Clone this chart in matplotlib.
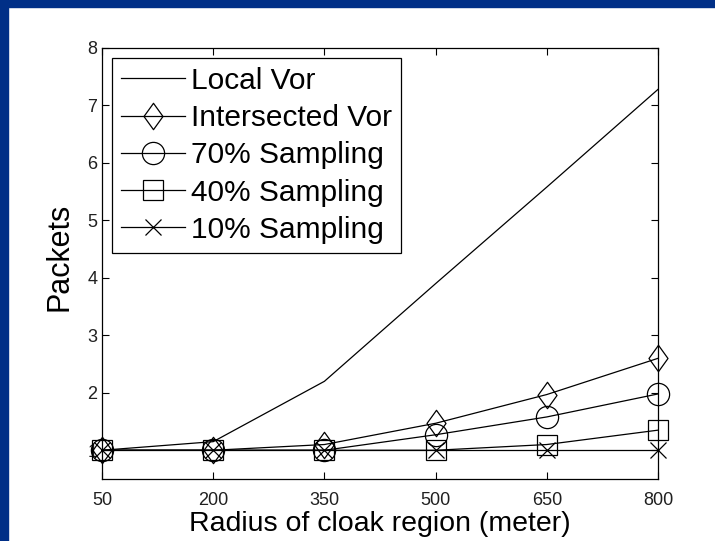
import matplotlib
matplotlib.use('Agg')
import matplotlib.pyplot as plt
from matplotlib.path import Path
from matplotlib.patches import Rectangle

# values
radius = [50, 200, 350, 500, 650, 800]
local_vor = [1.0, 1.15, 2.2, 3.9, 5.58, 7.28]
intersected_vor = [1.0, 1.0, 1.1, 1.47, 1.97, 2.6]
sampling_70 = [1.0, 1.0, 1.0, 1.27, 1.58, 1.98]
sampling_40 = [1.0, 1.0, 1.0, 1.0, 1.1, 1.35]
sampling_10 = [1.0, 1.0, 1.0, 1.0, 1.0, 1.0]
y_ticks = [1, 2, 3, 4, 5, 6, 7, 8]

plt.rcParams['font.family'] = ['Liberation Sans', 'DejaVu Sans']

# taller-than-wide diamond like the MATLAB one
diamond = Path([(0, 1), (0.72, 0), (0, -1), (-0.72, 0), (0, 1)],
               [Path.MOVETO, Path.LINETO, Path.LINETO, Path.LINETO, Path.CLOSEPOLY])

fig = plt.figure(figsize=(7.15, 5.41), dpi=100)
fig.patch.set_facecolor('white')
# blue slide frame on top and left
fig.patches.append(Rectangle((0, 1 - 7 / 541), 1, 7 / 541, transform=fig.transFigure,
                             color='#002f87', zorder=0))
fig.patches.append(Rectangle((0, 0), 8 / 715, 1, transform=fig.transFigure,
                             color='#002f87', zorder=0))

ax = fig.add_axes([0.1427, 0.1146, 0.7776, 0.7967])

style = dict(color='black', linewidth=0.9, markerfacecolor='none',
             markeredgecolor='black', markeredgewidth=0.9, clip_on=False)
ax.plot(radius, local_vor, label='Local Vor', **style)
ax.plot(radius, intersected_vor, marker=diamond, markersize=19, label='Intersected Vor', **style)
ax.plot(radius, sampling_70, marker='o', markersize=16, label='70% Sampling', **style)
ax.plot(radius, sampling_40, marker='s', markersize=14, label='40% Sampling', **style)
ax.plot(radius, sampling_10, marker='x', markersize=11, label='10% Sampling', **style)

ax.set_xlim(50, 800)
ax.set_ylim(0.5, 8)
ax.set_xticks(radius)
ax.set_yticks(y_ticks)
ax.tick_params(direction='in', length=5, labelsize=13, top=True, right=True,
               labelcolor='#202020')
ax.tick_params(axis='x', pad=9)
for s in ax.spines.values():
    s.set_linewidth(0.9)

ax.set_xlabel('Radius of cloak region (meter)', fontsize=20.5, labelpad=2)
ax.set_ylabel('Packets', fontsize=22)
ax.yaxis.set_label_coords(-0.049, 0.515)

leg = ax.legend(loc='upper left', fontsize=21.5, frameon=True, fancybox=False,
                edgecolor='black', framealpha=1, handlelength=2.15,
                handletextpad=0.2, labelspacing=0.31, borderpad=0.3,
                borderaxespad=0.33)
leg.get_frame().set_linewidth(0.9)

fig.savefig('out.png', dpi=100)
